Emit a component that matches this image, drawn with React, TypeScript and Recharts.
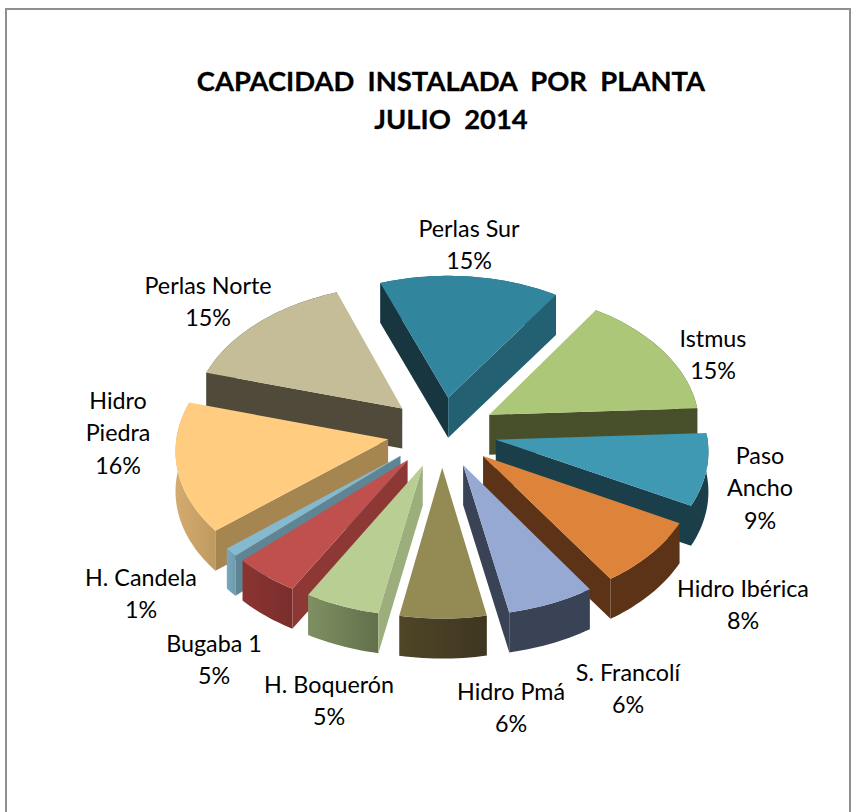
import React from 'react';
import { PieChart, Pie } from 'recharts';

const backNames = ['Perlas Norte', 'Perlas Sur', 'Istmus', 'Paso Ancho', 'Hidro Ibérica', 'S. Francolí', 'Hidro Pmá'];
const backShares = [15, 15, 15, 8.6, 8, 6.2, 6.1];
const frontNames = ['Hidro Piedra', 'H. Candela', 'Bugaba 1', 'H. Boquerón'];
const frontShares = [15.6, 1, 4.7, 5.3];
const titleLines = ['CAPACIDAD  INSTALADA  POR  PLANTA', 'JULIO  2014'];
const wrappedNames = ['Paso Ancho', 'Hidro Piedra'];

const categories = [...backNames, ...frontNames];
const topColors = ['#C4BD97', '#31859C', '#ADC778', '#4099B2', '#DD843A', '#95A9D2', '#948A54', '#FFCC80', '#85B9D0', '#C0504D', '#B8CE92'];
const startWall = ['#4F4A3A', '#17363F', '#484F2B', '#1A3E4A', '#5C3316', '#3A4356', '#4A4228', '#A58550', '#5F8494', '#8E3836', '#9BAE7C'];
const endWall = ['#4F4A3A', '#236071', '#484F2B', '#1A3E4A', '#5C3316', '#3A4356', '#4A4228', '#C39D60', '#78A8BC', '#8A3432', '#7A8C5F'];
const rimFrom = ['#4F4A3A', '#236071', '#484F2B', '#1A3E4A', '#5C3316', '#3A4356', '#4F4628', '#D4AB70', '#78A8BC', '#8A3432', '#7E9063'];
const rimTo = ['#4F4A3A', '#236071', '#484F2B', '#1A3E4A', '#5C3316', '#3A4356', '#3E3620', '#BF9A5E', '#6E9BAE', '#7A2E2C', '#62704B'];
// label centres relative to the pie centre
const labelOffsets = [[-234, -130], [27, -187], [271, -77], [318, 56], [301, 173], [186, 257], [69, 276], [-324, 1], [-301, 162], [-228, 228], [-113, 269]];

const CX = 442, CY = 432, R = 211;
const SQUASH = 0.64, PERSPECTIVE = 0.07, EXPLODE = 0.26, DEPTH = 40;
const RAD = Math.PI / 180;
const START = 164;

const total = [...backShares, ...frontShares].reduce((s, v) => s + v, 0);
const sweep = (vals: number[]) => (vals.reduce((s, v) => s + v, 0) / total) * 360;
const backData = backNames.map((name, i) => ({ name, value: backShares[i], fill: topColors[categories.indexOf(name)] }));
const frontData = frontNames.map((name, i) => ({ name, value: frontShares[i], fill: topColors[categories.indexOf(name)] }));

function project(cx: number, cy: number, R: number, u: number, v: number) {
  const w = 1 + PERSPECTIVE * v;
  return [cx + (R * u) / w, cy - (R * SQUASH * v) / w];
}

// A cut face shows only when pushing its edge downward moves it off the slice's top.
function faceShows(apex: number[], rim: number[], other: number[]) {
  const ex = rim[0] - apex[0], ey = rim[1] - apex[1];
  const ix = other[0] - apex[0], iy = other[1] - apex[1];
  return Math.sign(ex) !== Math.sign(ex * iy - ey * ix);
}

function Slice3D(props: any) {
  const { cx, cy, outerRadius, startAngle, endAngle, payload, name, fill } = props;
  const i = categories.indexOf(name ?? payload?.name);
  const s = Math.max(startAngle, endAngle);
  const e = Math.min(startAngle, endAngle);
  const a0 = (90 - s) * RAD;
  const a1 = (90 - e) * RAD;
  const m = (a0 + a1) / 2;
  const eu = EXPLODE * Math.sin(m), ev = EXPLODE * Math.cos(m);
  const pt = (a: number) => project(cx, cy, outerRadius, eu + Math.sin(a), ev + Math.cos(a));
  const apex = project(cx, cy, outerRadius, eu, ev);
  const n = Math.max(4, Math.ceil(Math.abs(a1 - a0) / (1.5 * RAD)));
  const arc: number[][] = [];
  for (let k = 0; k <= n; k++) arc.push(pt(a0 + ((a1 - a0) * k) / n));
  const poly = (pts: number[][]) => 'M' + pts.map((p) => p[0].toFixed(2) + ' ' + p[1].toFixed(2)).join('L') + 'Z';
  const down = (p: number[]) => [p[0], p[1] + DEPTH];
  const gid = 'rim' + i;
  const xs = arc.map((p) => p[0]);
  return (
    <g>
      <defs>
        <linearGradient id={gid} gradientUnits="userSpaceOnUse" x1={Math.min(...xs)} x2={Math.max(...xs)} y1={0} y2={0}>
          <stop offset="0" stopColor={rimFrom[i]} />
          <stop offset="1" stopColor={rimTo[i]} />
        </linearGradient>
      </defs>
      <path d={poly([...arc, ...arc.slice().reverse().map(down)])} fill={`url(#${gid})`} />
      {faceShows(apex, arc[0], arc[n]) && <path d={poly([apex, arc[0], down(arc[0]), down(apex)])} fill={startWall[i]} />}
      {faceShows(apex, arc[n], arc[0]) && <path d={poly([apex, arc[n], down(arc[n]), down(apex)])} fill={endWall[i]} />}
      <path d={poly([apex, ...arc])} fill={fill} />
    </g>
  );
}

function SliceLabel(props: any) {
  const { cx, cy, name, value } = props;
  const off = labelOffsets[categories.indexOf(name)];
  const lines = wrappedNames.includes(name) ? name.split(' ') : [name];
  lines.push(Math.round((value / total) * 100) + '%');
  const lh = 32.5;
  const top = cy + off[1] - ((lines.length - 1) * lh) / 2;
  return (
    <text textAnchor="middle" fontFamily="Lato, Carlito, sans-serif" fontSize={23.3} fill="#000">
      {lines.map((l: string, k: number) => (
        <tspan key={k} x={cx + off[0]} y={top + k * lh + 8}>{l}</tspan>
      ))}
    </text>
  );
}

export default function App() {
  const backEnd = START - sweep(backShares);
  const frontEnd = START + sweep(frontShares);
  return (
    <div style={{ position: 'absolute', left: 0, top: 0, width: 856, height: 812, overflow: 'hidden', background: '#fff' }}>
      <PieChart width={856} height={812} margin={{ top: 0, right: 0, bottom: 0, left: 0 }}>
        <rect x={6} y={9} width={844} height={830} fill="#fff" stroke="#8f8f8f" strokeWidth={2} />
        {titleLines.map((t, k) => (
          <text key={k} x={451} y={91 + k * 37.5} textAnchor="middle" fontFamily="Lato, Carlito, sans-serif" fontWeight={700} fontSize={27.4} fill="#000" stroke="#000" strokeWidth={0.3} style={{ whiteSpace: 'pre' }}>{t}</text>
        ))}
        <Pie
          data={backData}
          dataKey="value"
          nameKey="name"
          cx={CX}
          cy={CY}
          innerRadius={0}
          outerRadius={R}
          startAngle={START}
          endAngle={backEnd}
          stroke="none"
          isAnimationActive={false}
          shape={Slice3D}
          label={SliceLabel}
          labelLine={false}
        />
        <Pie
          data={frontData}
          dataKey="value"
          nameKey="name"
          cx={CX}
          cy={CY}
          innerRadius={0}
          outerRadius={R}
          startAngle={START}
          endAngle={frontEnd}
          stroke="none"
          isAnimationActive={false}
          shape={Slice3D}
          label={SliceLabel}
          labelLine={false}
        />
      </PieChart>
    </div>
  );
}
